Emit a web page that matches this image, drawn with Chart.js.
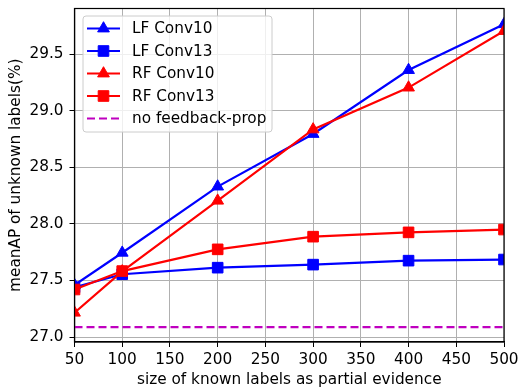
<!DOCTYPE html>
<html>
<head>
<meta charset="utf-8">
<script src="https://cdn.jsdelivr.net/npm/chart.js@4.4.1/dist/chart.umd.min.js"></script>
<style>
html,body{margin:0;padding:0;background:#fff;}
#wrap{width:519px;height:389px;position:relative;}
</style>
</head>
<body>
<div id="wrap"><canvas id="c" width="519" height="389"></canvas></div>
<script>
const xValues = [50, 100, 200, 300, 400, 500];
const lfConv10 = [27.46, 27.745, 28.33, 28.795, 29.36, 29.765];
const lfConv13 = [27.44, 27.555, 27.613, 27.64, 27.675, 27.685];
const rfConv10 = [27.215, 27.58, 28.205, 28.835, 29.205, 29.705];
const rfConv13 = [27.42, 27.583, 27.775, 27.887, 27.925, 27.95];
const noFeedbackX = [50, 500];
const noFeedback = [27.088, 27.088];
const yTicks = [27.0, 27.5, 28.0, 28.5, 29.0, 29.5];
const xTicks = [50, 100, 150, 200, 250, 300, 350, 400, 450, 500];
const labels = ['LF Conv10', 'LF Conv13', 'RF Conv10', 'RF Conv13', 'no feedback-prop'];

const FONT = 'DejaVu Sans';
const FS = 15.3;
const pts = (xs, ys) => xs.map((x, i) => ({x: x, y: ys[i]}));

function series(label, data, color, style, radius, order) {
  return {
    label: label, data: data, borderColor: color, backgroundColor: color,
    borderWidth: 2.2, pointStyle: style, pointRadius: radius, pointHoverRadius: radius,
    pointBorderWidth: 1, pointBorderColor: color, pointBackgroundColor: color,
    tension: 0, clip: 0, order: order
  };
}

const datasets = [
  series(labels[0], pts(xValues, lfConv10), '#0000ff', 'triangle', 6.8, 5),
  series(labels[1], pts(xValues, lfConv13), '#0000ff', 'rect', 7.5, 4),
  series(labels[2], pts(xValues, rfConv10), '#ff0000', 'triangle', 6.8, 3),
  series(labels[3], pts(xValues, rfConv13), '#ff0000', 'rect', 7.5, 2),
  Object.assign(series(labels[4], pts(noFeedbackX, noFeedback), '#bf00bf', false, 0, 1), {borderDash: [8, 4]})
];

const framePlugin = {
  id: 'frame',
  afterDatasetsDraw(chart) {
    const {ctx, chartArea: a} = chart;
    ctx.save();
    ctx.strokeStyle = '#000';
    ctx.lineWidth = 1.2;
    ctx.strokeRect(a.left, a.top, a.right - a.left, a.bottom - a.top);
    ctx.restore();
  },
  afterDraw(chart) {
    const ctx = chart.ctx;
    const bx = 83, by = 16, bw = 189, bh = 116, r = 3;
    ctx.save();
    ctx.beginPath();
    ctx.moveTo(bx + r, by);
    ctx.arcTo(bx + bw, by, bx + bw, by + bh, r);
    ctx.arcTo(bx + bw, by + bh, bx, by + bh, r);
    ctx.arcTo(bx, by + bh, bx, by, r);
    ctx.arcTo(bx, by, bx + bw, by, r);
    ctx.closePath();
    ctx.fillStyle = 'rgba(255,255,255,0.8)';
    ctx.fill();
    ctx.strokeStyle = '#cccccc';
    ctx.lineWidth = 1;
    ctx.stroke();
    chart.data.datasets.forEach((ds, i) => {
      const y = 28.5 + i * 22.5;
      ctx.beginPath();
      ctx.setLineDash(ds.borderDash || []);
      ctx.strokeStyle = ds.borderColor;
      ctx.lineWidth = ds.borderWidth;
      ctx.moveTo(87, y);
      ctx.lineTo(120, y);
      ctx.stroke();
      ctx.setLineDash([]);
      if (ds.pointStyle) {
        ctx.fillStyle = ds.borderColor;
        ctx.strokeStyle = ds.borderColor;
        ctx.lineWidth = 1;
        Chart.helpers.drawPoint(ctx, {pointStyle: ds.pointStyle, radius: ds.pointRadius, borderWidth: 1, rotation: 0}, 103.5, y);
      }
      ctx.fillStyle = '#000';
      ctx.font = FS + 'px "' + FONT + '"';
      ctx.textBaseline = 'middle';
      ctx.textAlign = 'left';
      ctx.fillText(ds.label, 132, y + 1);
    });
    ctx.restore();
  }
};

new Chart(document.getElementById('c'), {
  type: 'line',
  data: {datasets: datasets},
  plugins: [framePlugin],
  options: {
    responsive: false,
    animation: false,
    events: [],
    layout: {padding: {top: 7, right: 15, left: 0, bottom: 0}},
    plugins: {legend: {display: false}, tooltip: {enabled: false}},
    scales: {
      x: {
        type: 'linear', min: 50, max: 500,
        afterFit(s) { s.height = 47; s.paddingLeft = 0; s.paddingRight = 0; },
        afterBuildTicks(s) { s.ticks = xTicks.map(v => ({value: v})); },
        ticks: {color: '#000', font: {family: FONT, size: FS}, padding: 4, maxRotation: 0, autoSkip: false,
          callback: v => String(v)},
        grid: {color: '#b0b0b0', lineWidth: 1, tickColor: '#000', tickLength: 5, drawTicks: true},
        border: {display: true, color: '#000', width: 1.2},
        title: {display: true, text: 'size of known labels as partial evidence', color: '#000',
          font: {family: FONT, size: FS}, padding: {top: 0, bottom: 0}}
      },
      y: {
        type: 'linear', min: 26.956, max: 29.904,
        afterFit(s) { s.width = 74.5; s.paddingTop = 0; s.paddingBottom = 0; },
        afterBuildTicks(s) { s.ticks = yTicks.map(v => ({value: v})); },
        ticks: {color: '#000', font: {family: FONT, size: FS}, padding: 6, autoSkip: false,
          callback: v => Number(v).toFixed(1)},
        grid: {color: '#b0b0b0', lineWidth: 1, tickColor: '#000', tickLength: 5, drawTicks: true},
        border: {display: true, color: '#000', width: 1.2},
        title: {display: true, text: 'meanAP of unknown labels(%)', color: '#000',
          font: {family: FONT, size: FS}, padding: {top: 7, bottom: 0}}
      }
    }
  }
});
</script>
</body>
</html>
